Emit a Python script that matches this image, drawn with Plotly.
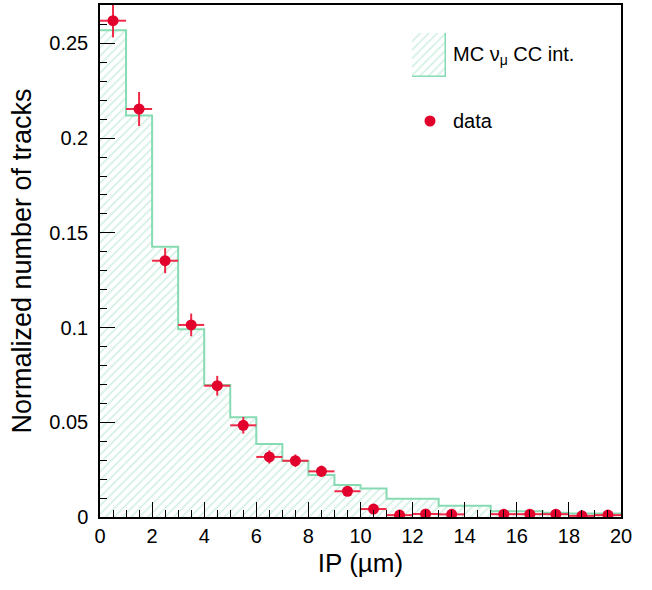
import plotly.graph_objects as go

# ---- data ----
bin_edges = [0, 1, 2, 3, 4, 5, 6, 7, 8, 9, 10, 11, 12, 13, 14, 15, 16, 17, 18, 19, 20]
bin_centers = [0.5, 1.5, 2.5, 3.5, 4.5, 5.5, 6.5, 7.5, 8.5, 9.5, 10.5, 11.5, 12.5,
               13.5, 14.5, 15.5, 16.5, 17.5, 18.5, 19.5]
mc_values = [0.257, 0.212, 0.1427, 0.0991, 0.0697, 0.0526, 0.0385, 0.0296, 0.0222,
             0.0169, 0.0151, 0.0096, 0.0096, 0.0059, 0.0059, 0.0030, 0.0030, 0.0022,
             0.0018, 0.0018]
data_values = [0.262, 0.2154, 0.1353, 0.1014, 0.0693, 0.0484, 0.0317, 0.0297, 0.0241,
               0.0136, 0.0042, 0.0010, 0.0016, 0.0014, None, 0.0015, 0.0015, 0.0015,
               0.0006, 0.0010]
data_errors = [0.0088, 0.009, 0.0066, 0.006, 0.0052, 0.0044, 0.0035, 0.0033, 0.003,
               0.0025, 0.0015, 0.0008, 0.0008, 0.0008, 0.0, 0.0008, 0.0008, 0.0008,
               0.0008, 0.0008]
bin_half_widths = [0.5] * 20
x_ticks = [0, 2, 4, 6, 8, 10, 12, 14, 16, 18, 20]
y_ticks = [0, 0.05, 0.1, 0.15, 0.2, 0.25]
y_tick_labels = ["0", "0.05", "0.1", "0.15", "0.2", "0.25"]

GREEN = "#86dbb3"
HATCH = "#a9e1c8"
RED = "#e2002c"
RED_BAR = "#ee2a48"
FONT = "Liberation Sans, Arial, Helvetica, sans-serif"

fig = go.Figure()

# hatched MC histogram
fig.add_trace(go.Bar(
    x=bin_centers, y=mc_values, width=1,
    marker=dict(color="white", line=dict(width=0),
                pattern=dict(shape="/", fgcolor=HATCH, bgcolor="white",
                             size=6, solidity=0.28)),
    showlegend=False, hoverinfo="skip"))

# step outline
fig.add_trace(go.Scatter(
    x=bin_edges, y=mc_values + [mc_values[-1]], mode="lines",
    line=dict(shape="hv", color=GREEN, width=2),
    showlegend=False, hoverinfo="skip"))

# data points
fig.add_trace(go.Scatter(
    x=bin_centers, y=data_values, mode="markers",
    marker=dict(color=RED, size=11, line=dict(width=0)),
    error_x=dict(type="data", array=bin_half_widths, color=RED_BAR, thickness=2, width=0),
    error_y=dict(type="data", array=data_errors, color=RED_BAR, thickness=2, width=0),
    showlegend=False))

# legend box (hatched) drawn with a bar on a helper axis
fig.add_trace(go.Bar(
    x=[0], y=[1], width=1, xaxis="x2", yaxis="y2",
    marker=dict(color="white", line=dict(width=1.5, color=GREEN),
                pattern=dict(shape="/", fgcolor=HATCH, bgcolor="white",
                             size=6, solidity=0.28)),
    showlegend=False, hoverinfo="skip"))

W, H = 652, 590
L, R, T, B = 100, 31, 5, 73
pw, ph = W - L - R, H - T - B


def px(xp):
    return (xp - L) / pw


def py(yp):
    return (H - B - yp) / ph


axis_common = dict(
    showgrid=False, zeroline=False, showline=True, linecolor="black", linewidth=1.5,
    mirror=True, ticks="inside", ticklen=15, tickwidth=1, tickcolor="black",
    automargin=False,
    tickfont=dict(family=FONT, size=20, color="black"),
)

fig.update_layout(
    width=W, height=H,
    margin=dict(l=L, r=R, t=T, b=B),
    plot_bgcolor="white", paper_bgcolor="white",
    showlegend=False,
    bargap=0,
    xaxis=dict(range=[0, 20], tickvals=x_ticks,
               minor=dict(dtick=0.5, ticklen=7, ticks="inside", tickcolor="black", tickwidth=1),
               title=dict(text="IP (µm)", font=dict(family=FONT, size=26, color="black"),
                          standoff=8),
               **axis_common),
    yaxis=dict(range=[0, 0.2703], tickvals=y_ticks, ticktext=y_tick_labels,
               minor=dict(dtick=0.01, ticklen=7, ticks="inside", tickcolor="black", tickwidth=1),
               title=dict(text="Normalized number of tracks",
                          font=dict(family=FONT, size=27, color="black"), standoff=10),
               ticklabelstandoff=6,
               **axis_common),
    xaxis2=dict(domain=[px(412), px(446)], range=[-0.5, 0.5], anchor="y2",
                visible=False, fixedrange=True),
    yaxis2=dict(domain=[py(77), py(33)], range=[0, 1], anchor="x2",
                visible=False, fixedrange=True),
    annotations=[
        dict(text="MC ν<sub>μ</sub> CC int.", xref="paper", yref="paper",
             x=px(451), y=py(55), xanchor="left", yanchor="middle", showarrow=False,
             font=dict(family=FONT, size=20, color="black")),
        dict(text="data", xref="paper", yref="paper",
             x=px(451), y=py(121), xanchor="left", yanchor="middle", showarrow=False,
             font=dict(family=FONT, size=20, color="black")),
    ],
    shapes=[
        dict(type="circle", xref="paper", yref="paper", xsizemode="pixel", ysizemode="pixel",
             xanchor=px(430), yanchor=py(121), x0=-5.5, x1=5.5, y0=-5.5, y1=5.5,
             fillcolor=RED, line=dict(width=0)),
    ],
)

fig.write_html("out.html", config={"displayModeBar": False})

# remove the browser's default page margin so the figure sits at the window origin
with open("out.html", "r", encoding="utf-8") as f:
    html = f.read()
html = html.replace("<head>", "<head><style>html,body{margin:0;padding:0;}</style>", 1)
with open("out.html", "w", encoding="utf-8") as f:
    f.write(html)
